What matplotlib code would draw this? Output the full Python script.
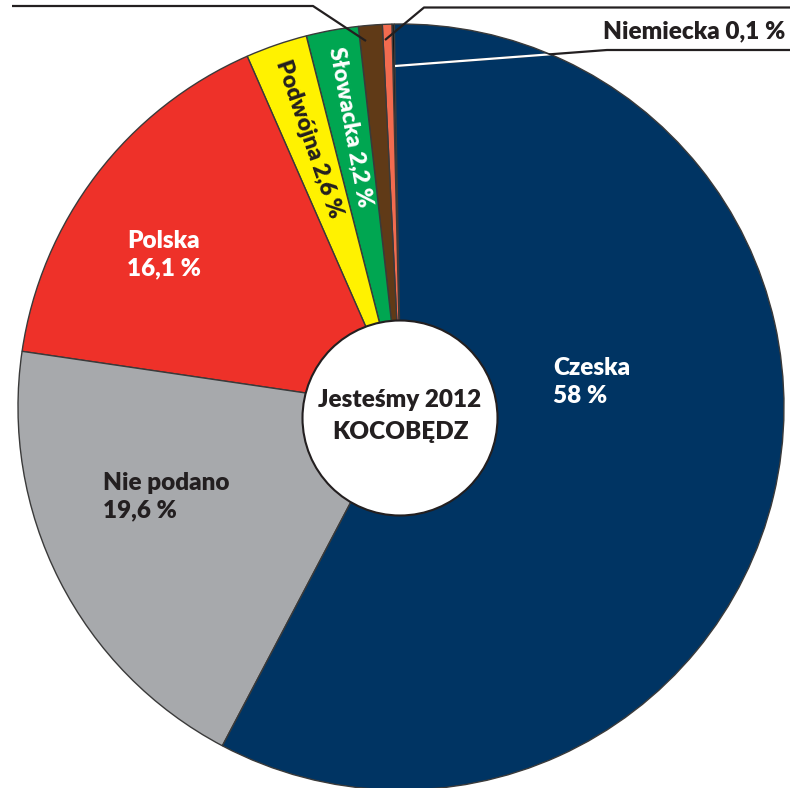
import matplotlib
matplotlib.use("Agg")
import matplotlib.pyplot as plt
from matplotlib.patches import Circle
import numpy as np

# ---- data ----
categories = ["Niemiecka", "Inna 1", "Inna 2", "Słowacka", "Podwójna", "Polska", "Nie podano", "Czeska"]
values = [0.1, 0.4, 1.0, 2.2, 2.6, 16.1, 19.6, 58.0]
colors = ["#0d0d0d", "#f26b4f", "#603a17", "#00a651", "#fff200", "#ee3129", "#a7a9ac", "#003463"]
center_title = ["Jesteśmy 2012", "KOCOBĘDZ"]

W, H = 790, 788
def Y(y):
    return H - y

def pct(v):
    s = ("%g" % v).replace(".", ",")
    return s + " %"

plt.rcParams['font.family'] = ['Lato', 'DejaVu Sans']
fig = plt.figure(figsize=(W / 100, H / 100), dpi=100)
ax = fig.add_axes([0, 0, 1, 1])

cx, cy, R = 401, Y(407), 383
wedges, _ = ax.pie(values, colors=colors, startangle=91, counterclock=True,
                   center=(cx, cy), radius=R, frame=True,
                   wedgeprops=dict(edgecolor="#3a3a3a", linewidth=1.0))
ax.set_xlim(0, W)
ax.set_ylim(0, H)
ax.set_aspect('equal')
ax.axis('off')

FW = 'heavy'
tc = "#231f20"
# centre circle
ax.add_patch(Circle((400, Y(418)), 97.5, facecolor="white", edgecolor=tc, linewidth=1.5, zorder=5))
ax.text(400, Y(400), center_title[0], ha='center', va='center', fontsize=17.5, fontweight=FW, color=tc, zorder=6)
ax.text(400, Y(432), center_title[1], ha='center', va='center', fontsize=17.5, fontweight=FW, color=tc, zorder=6)

fs = 17.5
# inside labels
ax.text(553, Y(382), f"{categories[7]}\n{pct(values[7])}", ha='left', va='center', fontsize=fs,
        fontweight=FW, color='white', linespacing=1.3)
ax.text(103, Y(497), f"{categories[6]}\n{pct(values[6])}", ha='left', va='center', fontsize=fs,
        fontweight=FW, color=tc, linespacing=1.3)
ax.text(127, Y(255), f"{categories[5]}\n{pct(values[5])}", ha='left', va='center', fontsize=fs,
        fontweight=FW, color='white', linespacing=1.3)

# rotated labels along the wedge mid-lines
for idx, col in ((4, tc), (3, 'white')):
    w = wedges[idx]
    mid = np.deg2rad((w.theta1 + w.theta2) / 2)
    r0 = 366
    x0 = cx + r0 * np.cos(mid)
    y0 = cy + r0 * np.sin(mid)
    ax.text(x0, y0, f"{categories[idx]} {pct(values[idx])}", ha='left', va='center',
            fontsize=16.5, fontweight=FW, color=col,
            rotation=np.rad2deg(mid) - 180, rotation_mode='anchor')

# leader lines
lc = tc
ax.plot([12, 313, 366], [Y(6), Y(6), Y(41)], color=lc, lw=1.6, solid_capstyle='butt')
ax.plot([W, 424, 385], [Y(7.5), Y(7.5), Y(40)], color=lc, lw=1.6, solid_capstyle='butt')
ax.plot([W, 607, 395], [Y(50), Y(50), Y(66)], color=lc, lw=1.6, solid_capstyle='butt')
wl, = ax.plot([607, 395], [Y(50), Y(66)], color='white', lw=1.6, solid_capstyle='butt')
clip = Circle((cx, cy), R - 1, transform=ax.transData)
wl.set_clip_path(clip)

ax.text(785, Y(31), f"{categories[0]} {pct(values[0])}", ha='right', va='center', fontsize=17.5,
        fontweight=FW, color=tc)

fig.savefig("out.png", dpi=100)
